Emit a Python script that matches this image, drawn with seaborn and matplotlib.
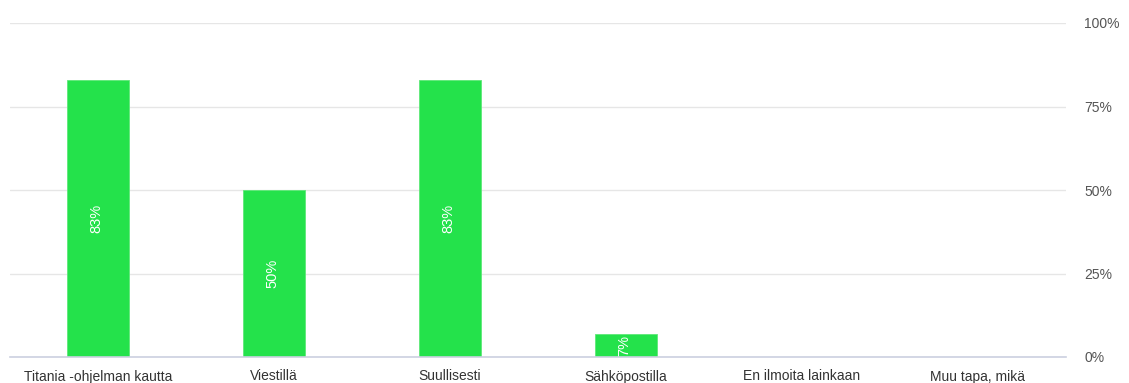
import matplotlib
matplotlib.use("Agg")
import matplotlib.pyplot as plt
import seaborn as sns
import pandas as pd

categories = ["Titania -ohjelman kautta", "Viestillä", "Suullisesti",
              "Sähköpostilla", "En ilmoita lainkaan", "Muu tapa, mikä"]
values = [83, 50, 83, 7, 0, 0]
value_labels = ["83%", "50%", "83%", "7%", "", ""]
yticks = [0, 25, 50, 75, 100]
ytick_labels = ["0%", "25%", "50%", "75%", "100%"]

sns.set_theme(style="white")
plt.rcParams['font.family'] = ['Liberation Sans', 'DejaVu Sans']

fig = plt.figure(figsize=(11.29, 3.83), dpi=100)
ax = fig.add_axes([10/1129, 1-357/383, (1066-10)/1129, (357-23)/383])

df = pd.DataFrame({"cat": categories, "val": values})
sns.barplot(data=df, x="cat", y="val", color="#24e24b", saturation=1,
            width=0.355, ax=ax, edgecolor="#5ee878", linewidth=0.6)

ax.set_ylim(0, 100)
ax.set_xlim(-0.5, len(categories) - 0.5)
ax.set_yticks(yticks)
ax.set_yticklabels(ytick_labels)
ax.yaxis.tick_right()
ax.tick_params(axis="y", length=0, pad=13, labelsize=10, labelcolor="#555555")
ax.tick_params(axis="x", length=0, pad=9, labelsize=10, labelcolor="#333333")
ax.set_xlabel("")
ax.set_ylabel("")
ax.grid(axis="y", color="#e6e6e6", linewidth=1)
ax.set_axisbelow(True)
for s in ["top", "left", "right"]:
    ax.spines[s].set_visible(False)
ax.spines["bottom"].set_color("#ccd0e0")
ax.spines["bottom"].set_linewidth(1.2)

for i, (v, lab) in enumerate(zip(values, value_labels)):
    if lab:
        ax.text(i - 0.01, v / 2, lab, rotation=90, ha="center", va="center",
                color="white", fontsize=10.5)

fig.savefig("out.png", dpi=100)
